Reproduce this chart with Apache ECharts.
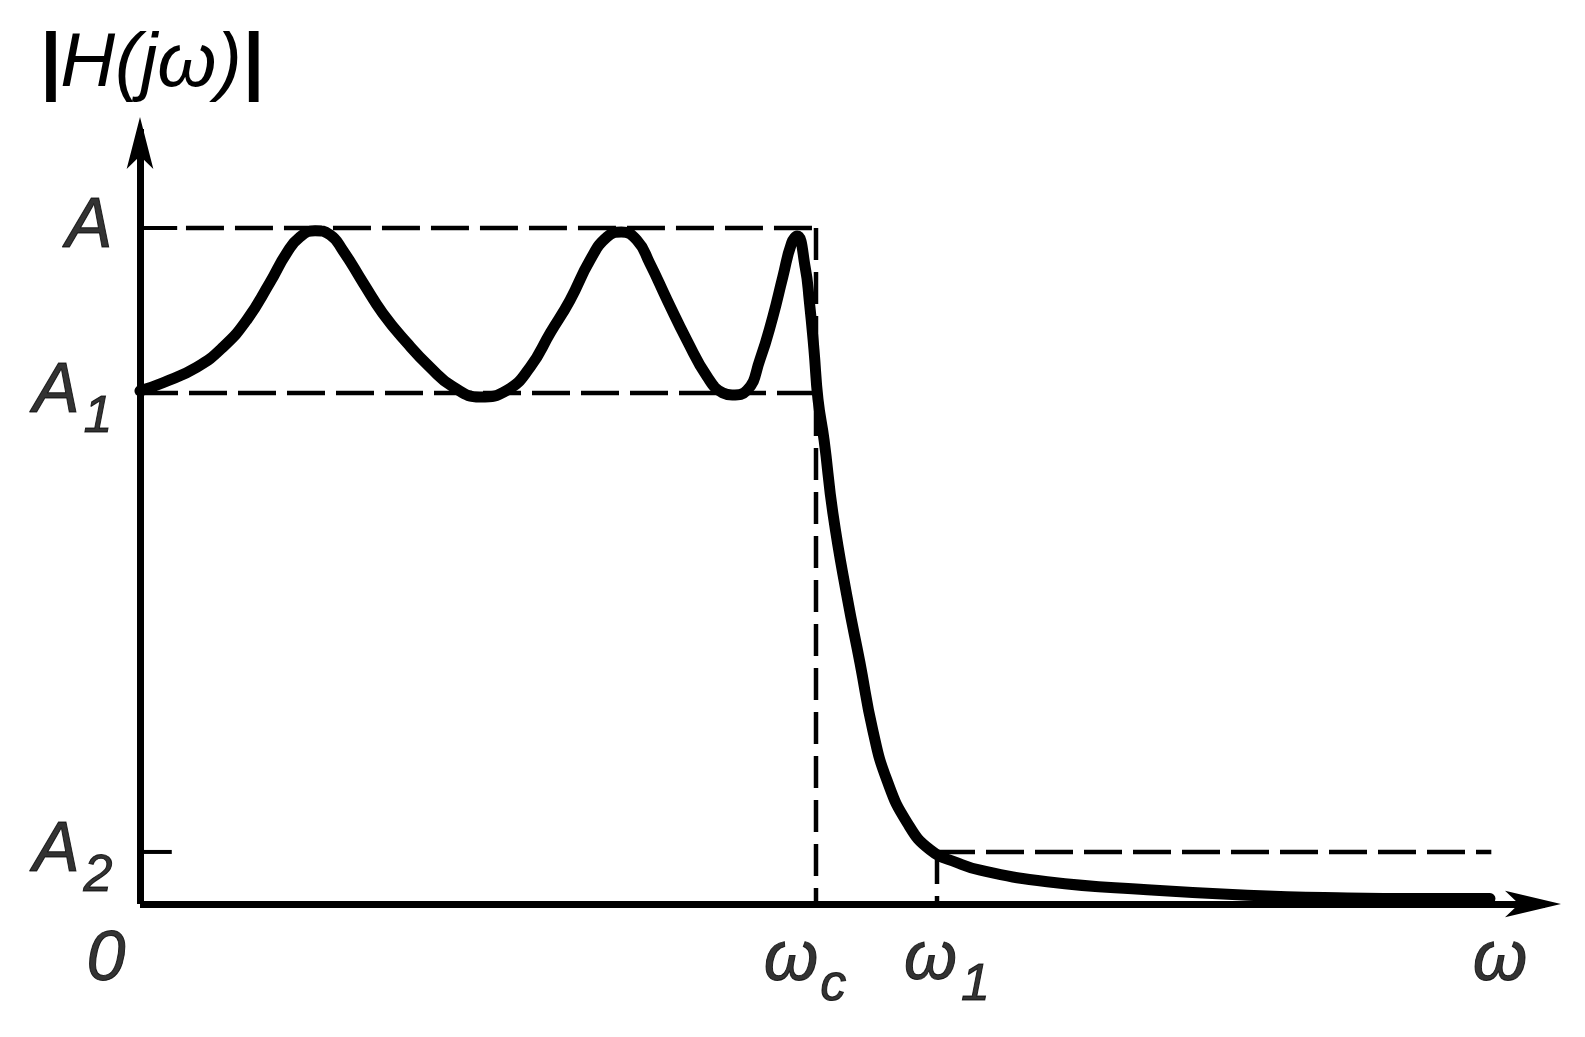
<!DOCTYPE html>
<html><head><meta charset="utf-8">
<script src="https://cdn.jsdelivr.net/npm/echarts@6/dist/echarts.min.js"></script>
<style>html,body{margin:0;padding:0;background:#fff}#c{width:1585px;height:1037px}</style>
</head><body><div id="c"></div>
<script>
// Normalized units: x = omega / omega_c, y = |H| / A
const levelA = 1.0;
const levelA1 = 0.756;
const levelA2 = 0.077;
const omegaC = 1.0;
const omega1 = 1.179;
const omegaLabelPos = 2.012;

const curveX = [0.0, 0.034, 0.084, 0.123, 0.158, 0.192, 0.217, 0.237, 0.259, 0.281, 0.300, 0.330, 0.359, 0.395, 0.429, 0.463, 0.503, 0.543, 0.577, 0.607, 0.636, 0.666, 0.691, 0.712, 0.735, 0.754, 0.780, 0.809, 0.839, 0.862, 0.876, 0.898, 0.917, 0.936, 0.951, 0.964, 0.972, 0.984, 0.990, 0.997, 1.003, 1.012, 1.025, 1.046, 1.065, 1.084, 1.105, 1.135, 1.169, 1.209, 1.243, 1.342, 1.490, 1.638, 1.786, 1.893, 1.997];
const curveY = [0.759, 0.771, 0.794, 0.824, 0.864, 0.919, 0.963, 0.987, 0.996, 0.990, 0.967, 0.919, 0.874, 0.830, 0.794, 0.765, 0.750, 0.760, 0.794, 0.845, 0.893, 0.953, 0.987, 0.994, 0.982, 0.948, 0.893, 0.834, 0.780, 0.756, 0.753, 0.760, 0.805, 0.868, 0.928, 0.978, 0.988, 0.942, 0.893, 0.820, 0.746, 0.686, 0.578, 0.454, 0.357, 0.257, 0.183, 0.120, 0.080, 0.061, 0.050, 0.033, 0.021, 0.013, 0.009, 0.008, 0.008];

const yTickValues = [levelA, levelA1, levelA2];
const yTickLabels = ['A', 'A{s|1}', 'A{s|2}'];
const xTickValues = [0, omegaC, omega1, omegaLabelPos];
const xTickLabels = ['{z|0}', 'ω{c|c}', '{w|ω}{s|1}', 'ω'];
const yAxisTitle = '{b||}H(jω){b||}';

const FONT = 'Liberation Sans';
const hDash = [38, 11];
const vDash = [32, 12];

const curve = curveX.map((x, i) => [x, curveY[i]]);

function seg(data, dash, width) {
  return {
    type: 'line', data: data, symbol: 'none', silent: true, z: 2,
    lineStyle: { color: '#000', width: width, type: dash || 'solid' }
  };
}
const base = { fontStyle: 'italic', fontFamily: FONT, color: '#000', textBorderColor: '#000', textBorderWidth: 1 };
const richStyles = {
  s: Object.assign({}, base, { fontSize: 52, lineHeight: 62, verticalAlign: 'bottom', padding: [40, 0, 0, 4] }),
  c: Object.assign({}, base, { fontSize: 52, lineHeight: 62, verticalAlign: 'bottom', padding: [40, 22, 0, 2] }),
  w: Object.assign({}, base, { fontSize: 68, lineHeight: 102, padding: [0, 0, 0, 20] }),
  z: Object.assign({}, base, { fontSize: 70, lineHeight: 102, padding: [0, 68, 0, 0] })
};
function labelSeries(points, texts, position, distance) {
  return {
    type: 'scatter', data: points, symbolSize: 1, silent: true, z: 5,
    itemStyle: { color: 'rgba(0,0,0,0)' },
    label: Object.assign({}, base, {
      show: true, position: position, distance: distance,
      fontSize: 70, lineHeight: 102,
      formatter: p => texts[p.dataIndex], rich: richStyles
    })
  };
}

const axisLineCommon = (size, offset) => ({
  show: true, onZero: false, symbol: ['none', 'arrow'], symbolSize: size, symbolOffset: [0, offset],
  lineStyle: { color: '#000', width: 7, cap: 'butt' }
});

const chart = echarts.init(document.getElementById('c'));
chart.setOption({
  animation: false,
  backgroundColor: '#fff',
  grid: { left: 140, right: 40, top: 129, bottom: 133 },
  xAxis: {
    type: 'value', min: 0, max: 2.0784,
    splitLine: { show: false }, axisTick: { show: false }, axisLabel: { show: false },
    axisLine: axisLineCommon([20, 56], 16)
  },
  yAxis: {
    type: 'value', min: 0, max: 1.1464,
    splitLine: { show: false }, axisTick: { show: false }, axisLabel: { show: false },
    axisLine: axisLineCommon([20, 52], 12),
    name: yAxisTitle, nameLocation: 'end', nameGap: 26,
    nameTextStyle: Object.assign({}, base, {
      fontSize: 76, padding: [0, 0, 0, 22], textBorderWidth: 0,
      rich: { b: Object.assign({}, base, { fontSize: 76, fontWeight: 'bold', textBorderWidth: 0 }) }
    })
  },
  series: [
    seg([[0, levelA], [0.055, levelA]], null, 4),
    seg([[0, levelA2], [0.047, levelA2]], null, 4),
    seg([[0.068, levelA], [omegaC, levelA]], hDash, 4.5),
    seg([[0, levelA1], [omegaC, levelA1]], hDash, 4.5),
    seg([[omega1, levelA2], [1.999, levelA2]], hDash, 4.5),
    seg([[omegaC, levelA], [omegaC, 0]], vDash, 4.5),
    seg([[omega1, levelA2], [omega1, 0]], vDash, 4.5),
    {
      type: 'line', data: curve, symbol: 'none', smooth: 0.5, silent: true, z: 3,
      lineStyle: { color: '#000', width: 11, cap: 'round', join: 'round' }
    },
    labelSeries(yTickValues.map(v => [0, v]), yTickLabels, 'left', 27),
    labelSeries(xTickValues.map(v => [v, 0]), xTickLabels, 'bottom', 5)
  ]
});
</script></body></html>
